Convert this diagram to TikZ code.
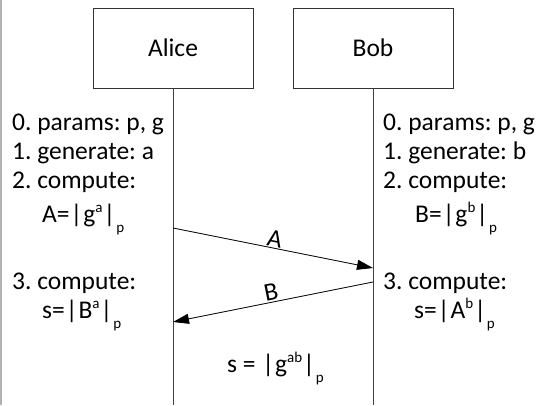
\documentclass[tikz,border=0pt]{standalone}
\usepackage{fontspec}
\setmainfont{Carlito}
\usetikzlibrary{arrows.meta}
\newcommand{\supx}[1]{\raisebox{0.36em}{\fontsize{15}{15}\selectfont #1}}
\newcommand{\subx}[1]{\raisebox{-0.42em}{\fontsize{15}{15}\selectfont #1}}
\newcommand{\barx}{\kern1pt|\kern1pt}
\begin{document}
\frenchspacing
\begin{tikzpicture}[x=1pt,y=-1pt,
  every node/.style={font=\fontsize{25.5}{30}\selectfont},
  actor/.style={draw=black!80, line width=0.9pt, minimum width=160pt, minimum height=80pt, inner sep=0pt},
  life/.style={draw=black!75, line width=0.9pt},
  txt/.style={anchor=base west, inner sep=0pt},
  msg/.style={draw=black, line width=0.8pt, -{Triangle[length=16pt,width=10pt]}},
  lbl/.style={sloped, above, inner sep=1pt}]
\useasboundingbox (0,0) rectangle (539,405);
\draw[black!30, line width=1.5pt] (0.75,0) -- (0.75,405);
% actors
\node[actor] (alice) at (173,48) {Alice};
\node[actor] (bob) at (373,48) {Bob};
\coordinate (aend) at (173,405);
\coordinate (bend) at (373,405);
\draw[life] (alice.south) -- (aend);
\draw[life] (bob.south) -- (bend);
% Alice text
\node[txt] (a0) at (12,130) {0. params: p, g};
\node[txt] (a1) at (12,159) {1. generate: a};
\node[txt] (a2) at (12,188) {2. compute:};
\node[txt] (a2f) at (42,222) {A=\barx g\supx{a}\barx\subx{p}};
\node[txt] (a3) at (12,289) {3. compute:};
\node[txt] (a3f) at (42,318) {s=\barx B\supx{a}\barx\subx{p}};
% Bob text
\node[txt] (b0) at (383,130) {0. params: p, g};
\node[txt] (b1) at (383,159) {1. generate: b};
\node[txt] (b2) at (383,188) {2. compute:};
\node[txt] (b2f) at (415,222) {B=\barx g\supx{b}\barx\subx{p}};
\node[txt] (b3) at (383,289) {3. compute:};
\node[txt] (b3f) at (414,318) {s=\barx A\supx{b}\barx\subx{p}};
% shared
\node[txt] (s) at (227,372) {s = \barx g\supx{ab}\barx\subx{p}};
% messages
\coordinate (pa1) at (173,228);
\coordinate (pb1) at (373,268);
\coordinate (pb2) at (373,282);
\coordinate (pa2) at (173,322);
\draw[msg] (pa1) -- node[lbl] (la) {A} (pb1);
\draw[msg] (pb2) -- node[lbl] (lb) {B} (pa2);
\end{tikzpicture}
\end{document}
